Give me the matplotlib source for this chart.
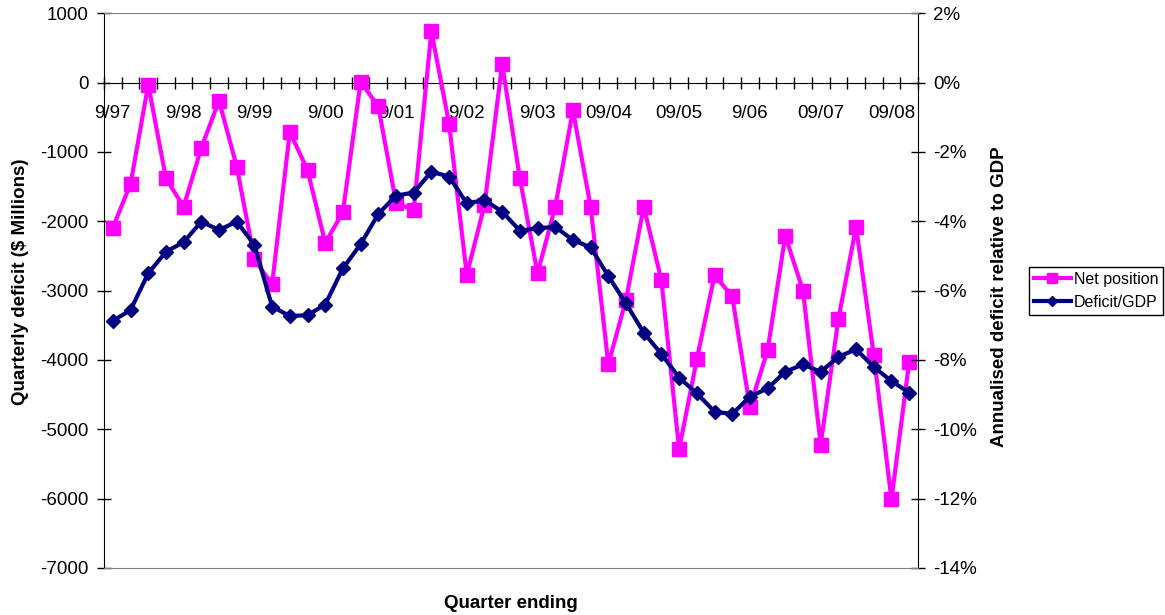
import matplotlib
matplotlib.use('Agg')
from matplotlib import pyplot as plt
from matplotlib.lines import Line2D

plt.rcParams['font.family'] = ['Liberation Sans', 'DejaVu Sans']

# quarterly data, 9/97 .. 12/08
tick_labels = ['9/97', '9/98', '9/99', '9/00', '9/01', '9/02', '9/03',
               '09/04', '09/05', '9/06', '09/07', '09/08']
label_every = 4

net_position = [-2090, -1460, -30, -1380, -1790, -940, -260, -1210, -2550, -2910,
                -710, -1260, -2310, -1870, 10, -340, -1730, -1840, 740, -590,
                -2770, -1770, 270, -1380, -2750, -1790, -400, -1790, -4060, -3130,
                -1790, -2850, -5290, -3990, -2780, -3080, -4680, -3860, -2210, -3000,
                -5220, -3410, -2080, -3930, -6010, -4030]

deficit_gdp = [-6.87, -6.56, -5.50, -4.88, -4.60, -4.01, -4.25, -4.01, -4.68, -6.46,
               -6.73, -6.71, -6.40, -5.36, -4.66, -3.79, -3.26, -3.17, -2.57, -2.71,
               -3.48, -3.39, -3.72, -4.27, -4.20, -4.16, -4.54, -4.75, -5.58, -6.37,
               -7.21, -7.83, -8.51, -8.96, -9.49, -9.56, -9.06, -8.82, -8.34, -8.13,
               -8.34, -7.91, -7.69, -8.20, -8.61, -8.94]

left_ticks = list(range(-7000, 1001, 1000))
right_ticks = list(range(-14, 3, 2))

MAGENTA = '#FF00FF'
NAVY = '#000080'
FS = 13.5


def plot_deficit():
    fig = plt.figure(figsize=(11.65, 6.15), dpi=100)
    ax = fig.add_axes([104 / 1165, 1 - 568 / 615, 814 / 1165, 554.7 / 615])
    ax2 = ax.twinx()

    n = len(net_position)
    x = list(range(n))

    ax.plot(x, net_position, color=MAGENTA, lw=3, marker='s', ms=10.5,
            clip_on=False, zorder=3)
    ax2.plot(x, deficit_gdp, color=NAVY, lw=3, marker='D', ms=7,
             clip_on=False, zorder=3)

    ax.set_xlim(-0.5, n - 0.5)
    ax.set_ylim(-7000, 1000)
    ax2.set_ylim(-14, 2)

    # category axis crossing at zero
    ax.spines['bottom'].set_position(('data', 0))
    ax.spines['bottom'].set_color('black')
    ax.spines['top'].set_visible(False)
    ax.spines['right'].set_visible(False)
    ax.spines['left'].set_color('black')
    ax2.spines['left'].set_visible(False)
    ax2.spines['bottom'].set_color('#808080')
    ax2.spines['top'].set_color('#808080')
    ax2.spines['right'].set_color('black')

    ax.set_xticks([i - 0.5 for i in range(n + 1)])
    ax.set_xticklabels([])
    ax.set_xticks(list(range(0, n, label_every))[:len(tick_labels)], minor=True)
    ax.set_xticklabels(tick_labels, minor=True, fontsize=FS)
    ax.tick_params(axis='x', which='major', direction='inout', length=9, width=1)
    ax.tick_params(axis='x', which='minor', length=0, pad=16)

    ax.set_yticks(left_ticks)
    ax.set_yticklabels([str(v) for v in left_ticks], fontsize=FS)
    ax.tick_params(axis='y', direction='inout', length=10, width=1, pad=6)

    ax2.set_yticks(right_ticks)
    ax2.set_yticklabels(['%d%%' % v for v in right_ticks], fontsize=FS)
    ax2.tick_params(axis='y', direction='inout', length=10, width=1, pad=6)

    ax.set_ylabel('Quarterly deficit ($ Millions)', fontsize=FS, fontweight='bold')
    ax.yaxis.set_label_coords(-0.092, 0.516)
    ax2.set_ylabel('Annualised deficit relative to GDP', fontsize=FS,
                   fontweight='bold', rotation=90)
    ax2.yaxis.set_label_coords(1.09, 0.489)
    fig.text(511 / 1165, 1 - 603 / 615, 'Quarter ending', fontsize=FS,
             fontweight='bold', ha='center', va='center')

    handles = [Line2D([], [], color=MAGENTA, lw=3, marker='s', ms=7),
               Line2D([], [], color=NAVY, lw=3, marker='D', ms=5)]
    leg = fig.legend(handles, ['Net position', 'Deficit/GDP'], loc='upper left',
                     bbox_to_anchor=(1029 / 1165, 1 - 267 / 615), fontsize=11.5,
                     fancybox=False, framealpha=1, edgecolor='black',
                     handlelength=2.3, handletextpad=0.2, borderpad=0.3,
                     labelspacing=0.5, borderaxespad=0)
    leg.get_frame().set_linewidth(1)
    return fig


def main():
    fig = plot_deficit()
    fig.savefig('out.png', dpi=100)


main()
